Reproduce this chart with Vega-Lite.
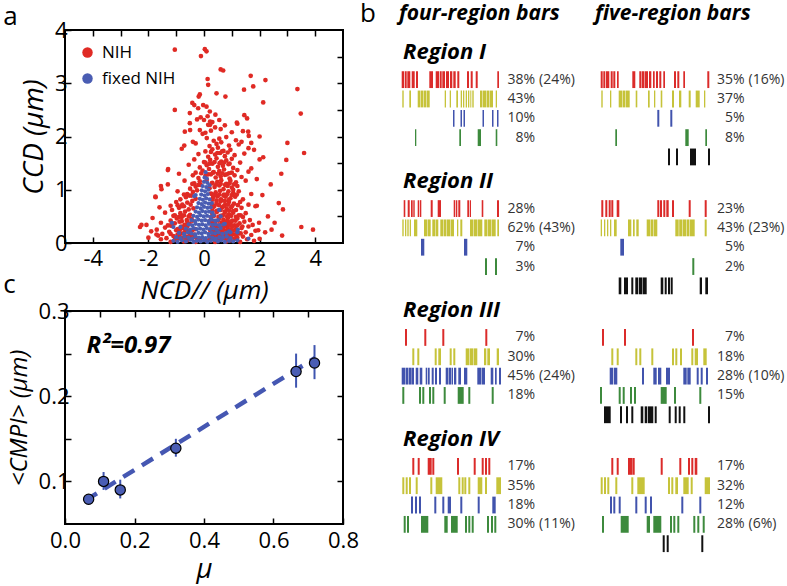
{
"$schema": "https://vega.github.io/schema/vega-lite/v6.json",
"background": "white",
"padding": {"left": 2, "top": 1, "right": 0, "bottom": 0},
"config": {
  "view": {"stroke": null},
  "font": "Open Sans",
  "axis": {"labelFont": "Open Sans", "titleFont": "Open Sans", "labelColor": "black", "titleColor": "black", "tickColor": "black", "tickWidth": 1.5, "grid": false, "domain": false, "labelFontSize": 22, "titleFontSize": 26, "titleFontWeight": "normal", "titleFontStyle": "italic", "tickSize": -6, "labelPadding": 4, "labelFlush": false, "labelOverlap": false}
},
"datasets": {
  "red": [
    {"x": [-1.55,-1.2,-1.05,-0.9,-0.72,-0.6,-0.48,-0.3,-0.15,0.1,0.25,0.4,0.55,0.68,0.8,0.95,1.1,1.3,1.55,1.8], "y": [0.07,0.02,0.06,0.09,0.03,0.05,0.08,0.02,0.07,0.04,0.07,0.02,0.06,0.09,0.03,0.05,0.08,0.02,0.07,0.04]},
    {"x": [-1.65,-1.35,-1.1,-0.95,-0.8,-0.62,-0.45,-0.25,0.3,0.45,0.6,0.75,0.9,1.05,1.2,1.4,1.7,2.0], "y": [0.14,0.09,0.13,0.16,0.1,0.12,0.15,0.08,0.14,0.11,0.14,0.09,0.13,0.16,0.1,0.12,0.15,0.08]},
    {"x": [-1.9,-1.5,-1.25,-1.0,-0.85,-0.7,-0.55,-0.35,0.35,0.5,0.62,0.78,0.92,1.08,1.25,1.5,1.85], "y": [0.22,0.17,0.21,0.24,0.18,0.2,0.23,0.16,0.22,0.19,0.22,0.17,0.21,0.24,0.18,0.2,0.23]},
    {"x": [-2.3,-1.7,-1.4,-1.15,-0.95,-0.78,-0.6,-0.42,0.28,0.42,0.58,0.7,0.85,1.0,1.15,1.35,1.6,1.95], "y": [0.3,0.25,0.29,0.32,0.26,0.28,0.31,0.24,0.3,0.27,0.3,0.25,0.29,0.32,0.26,0.28,0.31,0.24]},
    {"x": [-1.55,-1.3,-1.05,-0.88,-0.7,-0.52,0.32,0.48,0.64,0.8,0.95,1.1,1.28,1.45,1.75], "y": [0.38,0.33,0.37,0.4,0.34,0.36,0.39,0.32,0.38,0.35,0.38,0.33,0.37,0.4,0.34]},
    {"x": [-1.85,-1.2,-0.98,-0.8,-0.62,-0.45,0.25,0.4,0.55,0.7,0.86,1.02,1.2,1.4,1.65], "y": [0.47,0.42,0.46,0.49,0.43,0.45,0.48,0.41,0.47,0.44,0.47,0.42,0.46,0.49,0.43]},
    {"x": [-1.4,-1.05,-0.85,-0.68,-0.5,0.3,0.46,0.6,0.75,0.9,1.05,1.25,1.5], "y": [0.57,0.52,0.56,0.59,0.53,0.55,0.58,0.51,0.57,0.54,0.57,0.52,0.56]},
    {"x": [-1.6,-1.15,-0.9,-0.72,-0.55,-0.38,0.35,0.5,0.66,0.82,0.98,1.15,1.35,1.85], "y": [0.67,0.62,0.66,0.69,0.63,0.65,0.68,0.61,0.67,0.64,0.67,0.62,0.66,0.69]},
    {"x": [-1.0,-0.78,-0.6,-0.42,0.28,0.45,0.6,0.75,0.9,1.08,1.3,1.6], "y": [0.77,0.72,0.76,0.79,0.73,0.75,0.78,0.71,0.77,0.74,0.77,0.72]},
    {"x": [-1.75,-0.85,-0.65,-0.45,-0.3,0.32,0.48,0.62,0.78,0.95,1.12,1.4], "y": [0.87,0.82,0.86,0.89,0.83,0.85,0.88,0.81,0.87,0.84,0.87,0.82]},
    {"x": [-0.95,-0.6,-0.4,-0.25,0.25,0.42,0.58,0.72,0.88,1.05,1.25,1.7], "y": [0.97,0.92,0.96,0.99,0.93,0.95,0.98,0.91,0.97,0.94,0.97,0.92]},
    {"x": [-1.55,-0.5,-0.3,-0.12,0.2,0.38,0.55,0.7,0.85,1.0,1.2], "y": [1.07,1.02,1.06,1.09,1.03,1.05,1.08,1.01,1.07,1.04,1.07]},
    {"x": [-0.7,-0.35,-0.15,0.1,0.3,0.48,0.62,0.8,0.95,1.15,1.5], "y": [1.17,1.12,1.16,1.19,1.13,1.15,1.18,1.11,1.17,1.14,1.17]},
    {"x": [-0.4,-0.2,0.05,0.25,0.42,0.6,0.75,0.92,1.1,1.35], "y": [1.27,1.22,1.26,1.29,1.23,1.25,1.28,1.21,1.27,1.24]},
    {"x": [-1.3,-0.3,-0.05,0.18,0.35,0.55,0.72,0.9,1.2,1.6], "y": [1.37,1.32,1.36,1.39,1.33,1.35,1.38,1.31,1.37,1.34]},
    {"x": [-0.55,-0.15,0.1,0.3,0.5,0.68,0.88,1.05], "y": [1.47,1.42,1.46,1.49,1.43,1.45,1.48,1.41]},
    {"x": [-0.35,0.0,0.22,0.45,0.62,0.8,1.0,1.3,2.0], "y": [1.57,1.52,1.56,1.59,1.53,1.55,1.58,1.51,1.57]},
    {"x": [-0.2,0.15,0.4,0.58,0.75,1.1,1.45], "y": [1.67,1.62,1.66,1.69,1.63,1.65,1.68]},
    {"x": [-0.8,0.05,0.3,0.5,0.7,0.95,1.6], "y": [1.77,1.72,1.76,1.79,1.73,1.75,1.78]},
    {"x": [-0.3,0.2,0.45,0.62,0.9,1.25,1.7], "y": [1.87,1.82,1.86,1.89,1.83,1.85,1.88]},
    {"x": [0.1,0.35,0.55,0.8,1.15], "y": [1.97,1.92,1.96,1.99,1.93]},
    {"x": [-0.5,0.05,0.25,0.6,1.0,1.4], "y": [2.12,2.07,2.11,2.14,2.08,2.1]},
    {"x": [0.15,0.4,0.75,1.2], "y": [2.22,2.17,2.21,2.24]},
    {"x": [-0.25,0.3,0.55,1.55], "y": [2.32,2.27,2.31,2.34]},
    {"x": [0.22,0.38,0.52,0.68,0.83,0.97,1.13,0.22,0.38,0.52,0.68,0.83,0.97,1.13,0.22,0.38,0.52,0.68,0.83,0.97,1.13,0.3,0.45,0.6,0.75,0.9,1.05,0.3,0.45,0.6,0.75,0.9,1.05], "y": [0.09,0.1,0.08,0.11,0.09,0.1,0.08,0.24,0.25,0.23,0.26,0.24,0.25,0.23,0.41,0.4,0.42,0.39,0.41,0.4,0.42,0.61,0.6,0.62,0.59,0.61,0.6,0.81,0.8,0.82,0.79,0.81,1.0]},
    {"x": [-0.88,-0.67,-0.5,-0.32,-0.88,-0.67,-0.5,-0.32,-0.8,-0.6,-0.42], "y": [0.09,0.1,0.08,0.11,0.24,0.25,0.23,0.26,0.41,0.4,0.42]},
    {"x": [-1.2,-0.9,-0.72,-0.5,0.4,0.55,0.7,0.86,1.0,1.15,1.32], "y": [0.17,0.15,0.18,0.16,0.17,0.15,0.18,0.16,0.17,0.15,0.18]},
    {"x": [-1.2,-0.82,-0.62,0.38,0.54,0.72,0.88,1.03,1.2,1.38], "y": [0.33,0.31,0.34,0.32,0.33,0.31,0.34,0.32,0.33,0.31]},
    {"x": [-1.1,-0.9,-0.72,-0.55,0.36,0.52,0.68,0.83,0.98,1.15,1.32], "y": [0.51,0.49,0.52,0.5,0.51,0.49,0.52,0.5,0.51,0.49,0.52]},
    {"x": [-0.95,-0.8,-0.48,0.38,0.54,0.7,0.86,1.02,1.22], "y": [0.71,0.69,0.72,0.7,0.71,0.69,0.72,0.7,0.71]},
    {"x": [-0.72,-0.52,0.28,0.4,0.55,0.7,0.84,1.0,1.18], "y": [0.91,0.89,0.92,0.9,0.91,0.89,0.92,0.9,0.91]},
    {"x": [-0.42,-0.2,0.28,0.44,0.6,0.76,0.92,1.08], "y": [1.11,1.09,1.12,1.1,1.11,1.09,1.12,1.1]},
    {"x": [-0.1,0.15,0.32,0.5,0.66,0.82,1.0], "y": [1.31,1.29,1.32,1.3,1.31,1.29,1.32]},
    {"x": [0.05,0.2,0.38,0.56,0.72,0.92], "y": [1.51,1.49,1.52,1.5,1.51,1.49]},
    {"x": [0.25,0.48,0.65,0.85], "y": [1.71,1.69,1.72,1.7]},
    {"x": [-1.05,-0.11,0.03,0.09,0.6,0.69,1.68,2.21,3.36,0.13,0.15,1.44,1.77,0.45,0.77,-0.15,-0.19,-1.05,-0.42,-0.35,-0.03,0.09,-0.21,0.21,0.13,-0.51,0.41,-0.12,0.0,2.13,3.48,-0.51,0.22,0.22,1.18,-0.69,-0.15,-0.05,1.59,1.61,3.0,3.6,2.96,2.13,2.78,-0.71,-1.29,-1.53,-1.74,-2.07,-2.25,2.69,2.84,3.5,3.92,2.81,2.54,2.43,-1.71,1.98,2.3,2.1,1.9,1.7,2.4,1.9,2.2,-2.0,-1.2,-1.3,-0.9,-0.4,1.35,1.8,2.0,1.45], "y": [3.63,3.51,3.64,3.6,3.26,3.24,3.14,3.06,2.89,3.08,2.97,2.88,2.94,2.81,2.75,2.79,2.75,2.5,2.63,2.59,2.59,2.56,2.53,2.47,2.38,2.44,2.41,2.36,2.31,2.64,2.43,2.25,2.28,2.22,2.26,2.09,2.12,2.05,2.09,2.01,1.88,1.69,1.56,1.61,1.3,1.83,1.39,1.01,0.86,0.34,0.34,0.75,0.63,0.3,0.25,0.14,0.38,0.25,0.16,0.38,0.5,0.9,1.2,1.4,1.1,0.7,0.2,0.1,0.7,1.1,1.3,1.9,1.9,1.75,2.0,2.4]}
  ],
  "blue": [
    {"x": [-1.1,-0.95,-0.8,-0.65,-0.5,-0.38,-0.25,-0.12,0.0,0.12,0.25,0.38,0.5,0.62,0.75,0.9,1.05,1.2], "y": [0.04,0.02,0.05,0.03,0.06,0.02,0.04,0.03,0.05,0.02,0.04,0.06,0.03,0.05,0.02,0.04,0.03,0.05]},
    {"x": [-1.0,-0.85,-0.7,-0.56,-0.42,-0.3,-0.18,-0.06,0.06,0.18,0.3,0.42,0.55,0.68,0.82,0.95], "y": [0.11,0.09,0.12,0.1,0.08,0.12,0.1,0.11,0.09,0.12,0.1,0.08,0.11,0.1,0.12,0.09]},
    {"x": [-0.9,-0.72,-0.58,-0.45,-0.32,-0.2,-0.08,0.04,0.16,0.28,0.4,0.52,0.66,0.8,1.2], "y": [0.19,0.17,0.2,0.18,0.16,0.19,0.18,0.2,0.17,0.19,0.18,0.2,0.17,0.19,0.2]},
    {"x": [-1.1,-0.65,-0.5,-0.38,-0.26,-0.14,-0.02,0.1,0.22,0.34,0.46,0.6,0.9], "y": [0.3,0.27,0.25,0.28,0.26,0.27,0.25,0.28,0.26,0.27,0.25,0.28,0.22]},
    {"x": [-0.55,-0.42,-0.3,-0.18,-0.06,0.06,0.18,0.3,0.42,0.55,0.75], "y": [0.35,0.33,0.36,0.34,0.35,0.33,0.36,0.34,0.35,0.33,0.36]},
    {"x": [-0.45,-0.32,-0.2,-0.08,0.04,0.16,0.28,0.4,0.5], "y": [0.43,0.41,0.44,0.42,0.43,0.41,0.44,0.42,0.43]},
    {"x": [-0.38,-0.25,-0.13,-0.01,0.11,0.23,0.35,0.6], "y": [0.51,0.49,0.52,0.5,0.51,0.49,0.52,0.5]},
    {"x": [-0.3,-0.18,-0.06,0.06,0.18,0.3], "y": [0.59,0.57,0.6,0.58,0.59,0.57]},
    {"x": [-0.25,-0.12,0.0,0.12,0.24,0.55], "y": [0.67,0.65,0.68,0.66,0.67,0.62]},
    {"x": [-0.2,-0.08,0.04,0.16,0.28], "y": [0.75,0.73,0.76,0.74,0.75]},
    {"x": [-0.15,-0.04,0.08,0.2], "y": [0.83,0.81,0.84,0.82]},
    {"x": [-0.3,-0.1,0.02,0.14], "y": [0.9,0.91,0.89,0.92]},
    {"x": [-0.08,0.04,0.16,-0.05,0.08,0.2,0.0,0.12,0.02,0.1,0.06], "y": [0.99,0.97,1.0,1.07,1.05,1.08,1.15,1.13,1.23,1.21,1.33]},
    {"x": [1.6,-1.15,1.22,-0.35,0.55,0.7,0.95,-0.85], "y": [0.08,0.38,0.25,0.88,0.62,0.35,0.2,0.3]}
  ],
  "cmpi": [
    {"x": 0.068, "y": 0.079, "lo": 0.077, "hi": 0.081},
    {"x": 0.111, "y": 0.1, "lo": 0.09, "hi": 0.111},
    {"x": 0.159, "y": 0.09, "lo": 0.08, "hi": 0.102},
    {"x": 0.319, "y": 0.139, "lo": 0.129, "hi": 0.15},
    {"x": 0.665, "y": 0.229, "lo": 0.21, "hi": 0.25},
    {"x": 0.718, "y": 0.239, "lo": 0.22, "hi": 0.26}
  ],
  "fit": [{"x": 0.06, "y": 0.078}, {"x": 0.72, "y": 0.245}],
  "four": [
    {"r": "I", "s": "1", "a": [2.7,5.7,8.3,12.7,17,30.3,36.7,40.7,43.3,47,51,54.3,58.3,68,71.7,76.7,98.3], "b": [5,7.7,11.3,15.7,19,34,40,42.7,46,50,53.3,56.7,60.3,70,73.7,78.7,100]},
    {"r": "I", "s": "2", "a": [3.3,10.3,18.7,21.5,24.5,27.5,45.7,50.7,57.3,61.7,64,66.7,69,71.3,73.3,81,84,87.5,91,96.7], "b": [4.7,12,21,24,27,30.7,47,52,59,63,65.3,68,70.3,72.3,74.7,83.5,87,90.5,94,98]},
    {"r": "I", "s": "3", "a": [54,61.5,64.5,83.5,93,98], "b": [55.5,63,66,85,94.5,99.5]},
    {"r": "I", "s": "4", "a": [16,60.3,78.7,96.7], "b": [17.3,62,82,98.3]},
    {"r": "II", "s": "1", "a": [4.7,8.7,12,14.3,18.7,20.7,31.7,38.7,54.7,57,59.3,68.3,70.7,82.7,98], "b": [6.3,10.7,13.7,15.7,20,22.3,33.7,42,56.3,58.3,61.3,70,72,84.3,100]},
    {"r": "II", "s": "2", "a": [3.3,6,8.3,10.7,15,25,28.5,33.3,36.5,41.3,44.5,48,51.5,58,61.3,71,74.5,78.5,85.3,88.5,92.5,98.3], "b": [4.7,7.3,9.7,12,18.3,28,31.7,36,39.3,44,47.5,51,55,59.3,63.3,74,78,83.3,88,92,96.7,100]},
    {"r": "II", "s": "3", "a": [22,65], "b": [25.3,68.3]},
    {"r": "II", "s": "4", "a": [86,96], "b": [88,98]},
    {"r": "III", "s": "1", "a": [6,25.3,43.3,86.3], "b": [8,27.3,45.3,88.3]},
    {"r": "III", "s": "2", "a": [13.3,18.3,35.7,39.3,50.7,54.3,66.7,70.5,74.5,85,88.3,97.7], "b": [15.3,20.3,37.7,42,52.7,56.3,70,74,78.3,87.3,91,100]},
    {"r": "III", "s": "3", "a": [2.7,6.5,10,13,16.7,20.7,26.7,29,32.7,36,40,46.7,49.5,52.5,55,59.3,65,78.3,82.5,91.7,96,100], "b": [6,9.5,12.7,15,19.3,23.3,28.3,30.7,34.7,38,42,49,52,54,57.3,62,68.3,82,86,94.3,97.7,102]},
    {"r": "III", "s": "4", "a": [3.3,20,23.3,30,33.3,44.7,58.7,69.3,92.7], "b": [5.3,22,25.3,32,35.3,46.7,64.7,71.3,94.7]},
    {"r": "IV", "s": "1", "a": [13.3,18.7,28.7,33.3,58,74.7,82.7,86,89.3], "b": [15.3,20.7,32.7,35.3,60,76.7,84.7,88,91.3]},
    {"r": "IV", "s": "2", "a": [3.3,6.7,10,16.7,31.3,36.7,59.3,62.7,65.3,69.3,78.7,86,97.3], "b": [5.3,8.7,12,18.7,33.3,43.3,61.3,64.7,67.3,71.3,83.3,88,102]},
    {"r": "IV", "s": "3", "a": [12,16,20,35.3,43.3,48.7,61.3,78.7,93.3], "b": [14,18,22,37.3,45.3,52,63.3,80.7,96.7]},
    {"r": "IV", "s": "4", "a": [4.7,8,22,45.3,52,66,69.3,72.7,88,92,95.3], "b": [6.7,10,29.3,48.7,58.7,68,71.3,74.7,90,94,97.3]}
  ],
  "five": [
    {"r": "I", "s": "1", "a": [2.7,5.3,8,12.7,15.3,19,34.3,41.3,44,47,51,55,58,61.3,65.3,76,79.3,85.3,109.3], "b": [4.7,7.3,11.3,14.7,17.3,20.7,37.3,43.5,46.5,50,53.3,56.7,60,63.3,67,78,81.3,87,111.3]},
    {"r": "I", "s": "2", "a": [3.3,12,20.7,24.5,28,37.7,50,56,62.7,74,81,90.7,97.7,106], "b": [4.7,13.3,24,27.5,31.7,39.3,51.7,57.3,64.3,76,83.3,92.7,101.7,107.3]},
    {"r": "I", "s": "3", "a": [59.3,72.3], "b": [61.3,74.3]},
    {"r": "I", "s": "4", "a": [17.3,87.3,107.3], "b": [19,90.7,109]},
    {"r": "I", "s": "5", "a": [70,78,92,110], "b": [72,80,98,112]},
    {"r": "II", "s": "1", "a": [3.3,7.3,10.7,13.3,18.7,59.3,62,65.3,68.3,74,90.7,106.7], "b": [5.3,9.3,12.7,15.3,21.3,61.3,64,67.3,70.7,76,92.7,108.7]},
    {"r": "II", "s": "2", "a": [2.7,6,9,12,16,30,35,38.3,48.7,52.5,56,77.3,81.2,85,88.5,92,106.7], "b": [4,7.3,10.3,13.3,18.7,33.3,36.7,40.7,52,55.5,59.3,80.7,84.5,88,91.5,96.7,108.7]},
    {"r": "II", "s": "3", "a": [22.3], "b": [26]},
    {"r": "II", "s": "4", "a": [94.3], "b": [96.3]},
    {"r": "II", "s": "5", "a": [20.7,26,33.3,37.3,40.7,44.5,62.7,66.7,70,72.7,101.7,107.3], "b": [23.3,30,35.3,40,44,48.7,65.3,68.7,72,74.7,104,110]},
    {"r": "III", "s": "1", "a": [4,26,94], "b": [6,28,96]},
    {"r": "III", "s": "2", "a": [13.3,18.7,37.3,41.3,53.3,74,77.3,82,93.3,96.7,105.3], "b": [15.3,20.7,39.3,43.3,55.3,76,79.3,84,95.3,100,108.7]},
    {"r": "III", "s": "3", "a": [11.7,15.7,44,55.3,60,68,85.3,89.3,98.7,102.7,108], "b": [15,19.3,46,58.7,63.3,72,88.7,92.7,100.7,104.7,110]},
    {"r": "III", "s": "4", "a": [2,20.7,24.7,32,36,62.7,76,101.3], "b": [4,22.7,26.7,34,38,68.7,78,103.3]},
    {"r": "III", "s": "5", "a": [6,22,28,33.3,42.7,46.7,50,56.7,70.7,76.7,80.7,85.3,110], "b": [12.7,24,30,35.3,45.3,49.3,55.3,58.7,72.7,78.7,82.7,87.3,112]},
    {"r": "IV", "s": "1", "a": [13.3,18.7,30,35,62.7,81.3,90,93.3,96.7], "b": [15.3,20.7,34.7,36.7,64.7,83.3,92,95.3,99.3]},
    {"r": "IV", "s": "2", "a": [2.7,6,9.3,17.3,33.3,39.3,70,73.3,77.3,85.3,92.7,106.7], "b": [4.7,8,11.3,19.3,35.3,46.7,72,75.3,80,90.7,94.7,112]},
    {"r": "IV", "s": "3", "a": [12,15.3,20.7,37.3,46.7,52,83.3,101.3], "b": [14,17.3,22.7,39.3,48.7,54,85.3,103.3]},
    {"r": "IV", "s": "4", "a": [4,22.7,48.7,55.3,72,75.3,79.3,95.3,99.3,104.7], "b": [6,30.7,52,63.3,74,77.3,81.3,97.3,101.3,106.7]},
    {"r": "IV", "s": "5", "a": [64.7,68.7,103.3], "b": [66.7,70.7,105.3]}
  ],
  "fourLab": [
    {"r": "I", "s": "1", "p": "38%", "q": "(24%)"}, {"r": "I", "s": "2", "p": "43%"}, {"r": "I", "s": "3", "p": "10%"}, {"r": "I", "s": "4", "p": "8%"},
    {"r": "II", "s": "1", "p": "28%"}, {"r": "II", "s": "2", "p": "62%", "q": "(43%)"}, {"r": "II", "s": "3", "p": "7%"}, {"r": "II", "s": "4", "p": "3%"},
    {"r": "III", "s": "1", "p": "7%"}, {"r": "III", "s": "2", "p": "30%"}, {"r": "III", "s": "3", "p": "45%", "q": "(24%)"}, {"r": "III", "s": "4", "p": "18%"},
    {"r": "IV", "s": "1", "p": "17%"}, {"r": "IV", "s": "2", "p": "35%"}, {"r": "IV", "s": "3", "p": "18%"}, {"r": "IV", "s": "4", "p": "30%", "q": "(11%)"}
  ],
  "fiveLab": [
    {"r": "I", "s": "1", "p": "35%", "q": "(16%)"}, {"r": "I", "s": "2", "p": "37%"}, {"r": "I", "s": "3", "p": "5%"}, {"r": "I", "s": "4", "p": "8%"},
    {"r": "II", "s": "1", "p": "23%"}, {"r": "II", "s": "2", "p": "43%", "q": "(23%)"}, {"r": "II", "s": "3", "p": "5%"}, {"r": "II", "s": "4", "p": "2%"},
    {"r": "III", "s": "1", "p": "7%"}, {"r": "III", "s": "2", "p": "18%"}, {"r": "III", "s": "3", "p": "28%", "q": "(10%)"}, {"r": "III", "s": "4", "p": "15%"},
    {"r": "IV", "s": "1", "p": "17%"}, {"r": "IV", "s": "2", "p": "32%"}, {"r": "IV", "s": "3", "p": "12%"}, {"r": "IV", "s": "4", "p": "28%", "q": "(6%)"}
  ],
  "regions": [
    {"r": "I", "s": "t", "n": "Region I"}, {"r": "II", "s": "t", "n": "Region II"}, {"r": "III", "s": "t", "n": "Region III"}, {"r": "IV", "s": "t", "n": "Region IV"}
  ]
},
"spacing": 0,
"resolve": {"scale": {"color": "independent"}, "legend": {"color": "independent"}},
"hconcat": [
  {
    "bounds": "flush",
    "spacing": 68,
    "vconcat": [
      {
        "width": 278, "height": 213,
        "view": {"stroke": "black", "strokeWidth": 2},
        "resolve": {"axis": {"x": "independent", "y": "independent"}},
        "layer": [
          {
            "layer": [
              {
                "data": {"name": "red"},
                "transform": [{"flatten": ["x", "y"]}],
                "mark": {"type": "point", "filled": true, "size": 22, "opacity": 1},
                "encoding": {
                  "x": {"field": "x", "type": "quantitative", "scale": {"domain": [-5, 5], "nice": false, "zero": false},
                        "axis": {"title": "NCD// (μm)", "values": [-4,-3,-2,-1,0,1,2,3,4], "labelExpr": "datum.value % 2 == 0 ? '' + datum.value : ''", "titleFontSize": 26, "titlePadding": 8, "labelPadding": 11}},
                  "y": {"field": "y", "type": "quantitative", "scale": {"domain": [0, 4], "nice": false},
                        "axis": {"title": "CCD (μm)", "values": [0,0.5,1,1.5,2,2.5,3,3.5,4], "labelExpr": "datum.value % 1 == 0 ? '' + datum.value : ''", "titleFontSize": 28, "titlePadding": 6}},
                  "color": {"datum": "NIH", "type": "nominal", "scale": {"domain": ["NIH", "fixed NIH"], "range": ["#e02a24", "#4a5db3"]},
                            "legend": {"title": null, "orient": "top-left", "offset": 12, "padding": 2, "labelFontSize": 17, "labelFont": "Open Sans", "labelColor": "black", "symbolSize": 110, "symbolType": "circle", "rowPadding": 8, "labelOffset": 6, "symbolStrokeWidth": 0}}
                }
              },
              {
                "data": {"name": "blue"},
                "transform": [{"flatten": ["x", "y"]}],
                "mark": {"type": "point", "filled": true, "size": 18, "opacity": 1},
                "encoding": {
                  "x": {"field": "x", "type": "quantitative"},
                  "y": {"field": "y", "type": "quantitative"},
                  "color": {"datum": "fixed NIH", "type": "nominal"}
                }
              },
              {
                "data": {"values": [{"t": "a"}]},
                "mark": {"type": "text", "fontSize": 26, "align": "left", "baseline": "alphabetic", "color": "black"},
                "encoding": {"text": {"field": "t"}, "x": {"datum": -7.22}, "y": {"datum": 4.1}}
              }
            ]
          },
          {
            "data": {"values": [{"x": 0, "y": 0}]},
            "mark": {"type": "point", "opacity": 0},
            "encoding": {
              "x": {"field": "x", "type": "quantitative", "axis": {"orient": "top", "labels": false, "title": null, "values": [-4,-3,-2,-1,0,1,2,3,4]}},
              "y": {"field": "y", "type": "quantitative", "axis": {"orient": "right", "labels": false, "title": null, "values": [0.5,1,1.5,2,2.5,3,3.5]}}
            }
          }
        ]
      },
      {
        "width": 278, "height": 213,
        "view": {"stroke": "black", "strokeWidth": 2},
        "resolve": {"axis": {"x": "independent", "y": "independent"}},
        "layer": [
          {
            "layer": [
              {
                "data": {"name": "fit"},
                "mark": {"type": "line", "strokeDash": [13, 9], "strokeWidth": 4.5, "color": "#4557b2"},
                "encoding": {
                  "x": {"field": "x", "type": "quantitative", "scale": {"domain": [0, 0.8], "nice": false, "zero": false},
                        "axis": {"title": "μ", "values": [0,0.1,0.2,0.3,0.4,0.5,0.6,0.7,0.8], "labelExpr": "round(datum.value*10) % 2 == 0 ? format(datum.value, '.1f') : ''", "titleFontSize": 28, "titlePadding": 4, "labelPadding": 12}},
                  "y": {"field": "y", "type": "quantitative", "scale": {"domain": [0.05, 0.3], "nice": false, "zero": false},
                        "axis": {"title": "<CMPI> (μm)", "values": [0.1,0.15,0.2,0.25,0.3], "labelExpr": "round(datum.value*100) % 10 == 0 ? format(datum.value, '.1f') : ''", "titleFontSize": 24, "titlePadding": 7, "labelPadding": 2}}
                }
              },
              {
                "data": {"name": "cmpi"},
                "mark": {"type": "rule", "strokeWidth": 2, "color": "#3f55b0"},
                "encoding": {
                  "x": {"field": "x", "type": "quantitative"},
                  "y": {"field": "lo", "type": "quantitative"},
                  "y2": {"field": "hi"}
                }
              },
              {
                "data": {"name": "cmpi"},
                "mark": {"type": "point", "filled": true, "size": 105, "fill": "#4a5db4", "stroke": "black", "strokeWidth": 1.2, "opacity": 1},
                "encoding": {
                  "x": {"field": "x", "type": "quantitative"},
                  "y": {"field": "y", "type": "quantitative"}
                }
              },
              {
                "data": {"values": [{"t": "R²=0.97"}]},
                "mark": {"type": "text", "fontSize": 24, "fontWeight": "bold", "fontStyle": "italic", "align": "left", "baseline": "middle", "color": "black"},
                "encoding": {"text": {"field": "t"}, "x": {"datum": 0.062}, "y": {"datum": 0.259}}
              },
              {
                "data": {"values": [{"t": "c"}]},
                "mark": {"type": "text", "fontSize": 26, "align": "left", "baseline": "alphabetic", "color": "black"},
                "encoding": {"text": {"field": "t"}, "x": {"datum": -0.178}, "y": {"datum": 0.321}}
              }
            ]
          },
          {
            "data": {"values": [{"x": 0.4, "y": 0.2}]},
            "mark": {"type": "point", "opacity": 0},
            "encoding": {
              "x": {"field": "x", "type": "quantitative", "axis": {"orient": "top", "labels": false, "title": null, "values": [0.1,0.2,0.3,0.4,0.5,0.6,0.7]}},
              "y": {"field": "y", "type": "quantitative", "axis": {"orient": "right", "labels": false, "title": null, "values": [0.1,0.15,0.2,0.25]}}
            }
          }
        ]
      }
    ]
  },
  {
    "width": 195, "height": 544,
    "layer": [
      {
        "data": {"name": "four"},
        "transform": [{"flatten": ["a", "b"]}],
        "mark": {"type": "rect"},
        "encoding": {
          "x": {"field": "a", "type": "quantitative", "scale": {"domain": [0, 195], "nice": false, "zero": false}, "axis": null},
          "x2": {"field": "b"},
          "y": {"field": "r", "type": "nominal", "scale": {"domain": ["I", "II", "III", "IV"], "paddingInner": 0, "paddingOuter": 0.11}, "axis": null},
          "yOffset": {"field": "s", "type": "nominal", "scale": {"domain": ["t", "1", "2", "3", "4", "5"], "paddingInner": 0.13, "paddingOuter": 0.4}},
          "color": {"field": "s", "type": "nominal", "scale": {"domain": ["1", "2", "3", "4", "5"], "range": ["#db2b2a", "#c6c33a", "#4153ad", "#3d8a3d", "#111111"]}, "legend": null}
        }
      },
      {
        "data": {"name": "regions"},
        "mark": {"type": "text", "fontSize": 22, "fontWeight": "bold", "fontStyle": "italic", "align": "left", "baseline": "middle", "dy": -8, "color": "black"},
        "encoding": {
          "text": {"field": "n"},
          "x": {"datum": 4},
          "y": {"field": "r", "type": "nominal"},
          "yOffset": {"field": "s", "type": "nominal"}
        }
      },
      {
        "data": {"values": [{"t": "four-region bars"}]},
        "mark": {"type": "text", "fontSize": 21, "fontWeight": "bold", "fontStyle": "italic", "align": "left", "baseline": "alphabetic", "dy": -40, "color": "black"},
        "encoding": {"text": {"field": "t"}, "x": {"datum": 0}, "y": {"datum": "I"}, "yOffset": {"datum": "t"}}
      },
      {
        "data": {"values": [{"t": "b"}]},
        "mark": {"type": "text", "fontSize": 26, "align": "left", "baseline": "alphabetic", "dy": -38, "color": "black"},
        "encoding": {"text": {"field": "t"}, "x": {"datum": -39}, "y": {"datum": "I"}, "yOffset": {"datum": "t"}}
      },
      {
        "data": {"name": "fourLab"},
        "mark": {"type": "text", "fontSize": 14, "align": "right", "baseline": "middle", "color": "#333333"},
        "encoding": {
          "text": {"field": "p"},
          "x": {"datum": 136},
          "y": {"field": "r", "type": "nominal"},
          "yOffset": {"field": "s", "type": "nominal"}
        }
      },
      {
        "data": {"name": "fourLab"},
        "transform": [{"filter": "datum.q"}],
        "mark": {"type": "text", "fontSize": 14, "align": "left", "baseline": "middle", "color": "#333333"},
        "encoding": {
          "text": {"field": "q"},
          "x": {"datum": 140},
          "y": {"field": "r", "type": "nominal"},
          "yOffset": {"field": "s", "type": "nominal"}
        }
      }
    ]
  },
  {
    "width": 187, "height": 544,
    "layer": [
      {
        "data": {"name": "five"},
        "transform": [{"flatten": ["a", "b"]}],
        "mark": {"type": "rect"},
        "encoding": {
          "x": {"field": "a", "type": "quantitative", "scale": {"domain": [0, 187], "nice": false, "zero": false}, "axis": null},
          "x2": {"field": "b"},
          "y": {"field": "r", "type": "nominal", "scale": {"domain": ["I", "II", "III", "IV"], "paddingInner": 0, "paddingOuter": 0.11}, "axis": null},
          "yOffset": {"field": "s", "type": "nominal", "scale": {"domain": ["t", "1", "2", "3", "4", "5"], "paddingInner": 0.13, "paddingOuter": 0.4}},
          "color": {"field": "s", "type": "nominal", "scale": {"domain": ["1", "2", "3", "4", "5"], "range": ["#db2b2a", "#c6c33a", "#4153ad", "#3d8a3d", "#111111"]}, "legend": null}
        }
      },
      {
        "data": {"values": [{"t": "five-region bars"}]},
        "mark": {"type": "text", "fontSize": 21, "fontWeight": "bold", "fontStyle": "italic", "align": "left", "baseline": "alphabetic", "dy": -40, "color": "black"},
        "encoding": {"text": {"field": "t"}, "x": {"datum": -3}, "y": {"datum": "I"}, "yOffset": {"datum": "t"}}
      },
      {
        "data": {"name": "fiveLab"},
        "mark": {"type": "text", "fontSize": 14, "align": "right", "baseline": "middle", "color": "#333333"},
        "encoding": {
          "text": {"field": "p"},
          "x": {"datum": 146.5},
          "y": {"field": "r", "type": "nominal"},
          "yOffset": {"field": "s", "type": "nominal"}
        }
      },
      {
        "data": {"name": "fiveLab"},
        "transform": [{"filter": "datum.q"}],
        "mark": {"type": "text", "fontSize": 14, "align": "left", "baseline": "middle", "color": "#333333"},
        "encoding": {
          "text": {"field": "q"},
          "x": {"datum": 150.5},
          "y": {"field": "r", "type": "nominal"},
          "yOffset": {"field": "s", "type": "nominal"}
        }
      }
    ]
  }
]
}
